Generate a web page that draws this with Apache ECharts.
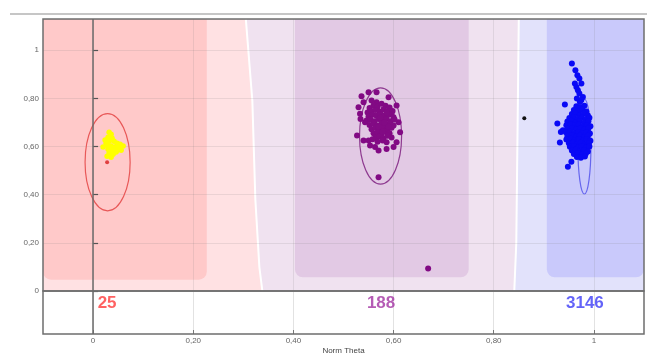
<!DOCTYPE html>
<html><head><meta charset="utf-8">
<script src="https://cdn.jsdelivr.net/npm/echarts@6/dist/echarts.min.js"></script>
<style>html,body{margin:0;padding:0;background:#fff}#c{width:647px;height:356px}</style>
</head><body><div id="c"></div>
<script>
// ---------- data ----------
const xTickValues = [0, 0.2, 0.4, 0.6, 0.8, 1];
const xTickLabels = ['0', '0,20', '0,40', '0,60', '0,80', '1'];
const yTickValues = [0, 0.2, 0.4, 0.6, 0.8, 1];
const yTickLabels = ['0', '0,20', '0,40', '0,60', '0,80', '1'];
const xRange = [-0.1, 1.1];
const yRange = [0, 1.13];
const xAxisName = 'Norm Theta';

const clusterCounts = ['25', '188', '3146'];
const clusterCenterX = [0.028, 0.575, 0.982];
const countLabelY = 0.71; // position inside the lower count band (0..1)

// decision regions (data units)
const lightPinkRegion = [[-0.1, 0], [0.336, 0], [0.330, 0.1], [0.322, 0.38], [0.316, 0.79], [0.303, 1.13], [-0.1, 1.13]];
const lightPurpleRegion = [[0.340, 0], [0.839, 0], [0.843, 0.2], [0.848, 1.13], [0.307, 1.13], [0.320, 0.79], [0.326, 0.38], [0.334, 0.1]];
const lightBlueRegion = [[0.843, 0], [1.1, 0], [1.1, 1.13], [0.852, 1.13], [0.847, 0.2]];
const darkRedRegion = [-0.1, 0.227, 0.047, 1.13];    // x0, x1, y0, y1
const darkPurpleRegion = [0.403, 0.750, 0.057, 1.13];
const darkBlueRegion = [0.906, 1.1, 0.057, 1.13];

// cluster ellipses [cx, cy, rx, ry]
const redEllipse = [0.029, 0.535, 0.045, 0.202];
const purpleEllipse = [0.574, 0.644, 0.042, 0.200];
const blueEllipse = [0.981, 0.600, 0.013, 0.197];

const yellowPoints = [
  [0.032, 0.660], [0.036, 0.651], [0.030, 0.639], [0.038, 0.635], [0.024, 0.627],
  [0.032, 0.622], [0.042, 0.622], [0.048, 0.614], [0.054, 0.610], [0.060, 0.602],
  [0.028, 0.606], [0.036, 0.602], [0.044, 0.598], [0.052, 0.593], [0.020, 0.598],
  [0.030, 0.589], [0.038, 0.585], [0.048, 0.585], [0.032, 0.573], [0.040, 0.568],
  [0.028, 0.560], [0.036, 0.556], [0.046, 0.577], [0.056, 0.585], [0.026, 0.614]
];
const redPoints = [[0.028, 0.535]];
const blackPoints = [[0.861, 0.718]];
const purplePoints = [
  [0.536, 0.809], [0.550, 0.826], [0.566, 0.826], [0.540, 0.784], [0.530, 0.763],
  [0.533, 0.736], [0.527, 0.646], [0.540, 0.625], [0.550, 0.625], [0.553, 0.604],
  [0.563, 0.598], [0.570, 0.584], [0.586, 0.590], [0.600, 0.598], [0.606, 0.618],
  [0.613, 0.660], [0.610, 0.701], [0.606, 0.771], [0.590, 0.805], [0.566, 0.784],
  [0.556, 0.791], [0.543, 0.701], [0.534, 0.715], [0.570, 0.473], [0.669, 0.093],
  [0.552, 0.760], [0.560, 0.772], [0.568, 0.765], [0.576, 0.778], [0.584, 0.770], [0.592, 0.762], [0.598, 0.748],
  [0.548, 0.742], [0.556, 0.748], [0.564, 0.752], [0.572, 0.745], [0.580, 0.755], [0.588, 0.748], [0.596, 0.735],
  [0.550, 0.725], [0.558, 0.732], [0.566, 0.728], [0.574, 0.735], [0.582, 0.728], [0.590, 0.732], [0.600, 0.722],
  [0.546, 0.708], [0.554, 0.712], [0.562, 0.705], [0.570, 0.715], [0.578, 0.708], [0.586, 0.715], [0.594, 0.705], [0.602, 0.712],
  [0.552, 0.690], [0.560, 0.695], [0.568, 0.688], [0.576, 0.698], [0.584, 0.690], [0.592, 0.695], [0.600, 0.688],
  [0.556, 0.672], [0.564, 0.678], [0.572, 0.670], [0.580, 0.680], [0.588, 0.672], [0.596, 0.678],
  [0.560, 0.655], [0.568, 0.660], [0.576, 0.652], [0.584, 0.662], [0.592, 0.655],
  [0.564, 0.638], [0.572, 0.642], [0.580, 0.635], [0.588, 0.645], [0.596, 0.638],
  [0.568, 0.620], [0.578, 0.625], [0.586, 0.618], [0.558, 0.630],
  [0.574, 0.720], [0.582, 0.700], [0.590, 0.682], [0.578, 0.662], [0.586, 0.742], [0.570, 0.682]
];
const bluePoints = [
  [0.956, 0.945], [0.963, 0.917], [0.967, 0.896], [0.971, 0.883], [0.962, 0.862], [0.965, 0.848], [0.975, 0.862],
  [0.968, 0.834], [0.971, 0.820], [0.978, 0.806], [0.975, 0.793], [0.966, 0.800], [0.972, 0.785],
  [0.942, 0.775], [0.927, 0.696], [0.938, 0.668], [0.934, 0.661], [0.932, 0.617], [0.955, 0.537], [0.948, 0.516],
  [0.965, 0.768], [0.973, 0.762], [0.981, 0.770],
  [0.960, 0.752], [0.969, 0.748], [0.977, 0.754], [0.985, 0.746],
  [0.956, 0.735], [0.963, 0.738], [0.972, 0.731], [0.980, 0.737], [0.988, 0.729],
  [0.951, 0.719], [0.960, 0.722], [0.968, 0.716], [0.976, 0.721], [0.984, 0.714], [0.991, 0.720],
  [0.947, 0.704], [0.955, 0.707], [0.964, 0.701], [0.972, 0.706], [0.981, 0.699], [0.989, 0.705],
  [0.945, 0.689], [0.953, 0.692], [0.962, 0.686], [0.970, 0.691], [0.978, 0.685], [0.986, 0.690], [0.993, 0.684],
  [0.948, 0.674], [0.957, 0.677], [0.965, 0.671], [0.973, 0.676], [0.981, 0.670], [0.989, 0.675],
  [0.944, 0.659], [0.952, 0.662], [0.961, 0.656], [0.969, 0.661], [0.977, 0.655], [0.985, 0.660], [0.992, 0.654],
  [0.947, 0.644], [0.956, 0.647], [0.964, 0.641], [0.972, 0.646], [0.980, 0.640], [0.988, 0.645],
  [0.945, 0.629], [0.954, 0.632], [0.962, 0.626], [0.970, 0.631], [0.978, 0.625], [0.986, 0.630], [0.993, 0.624],
  [0.950, 0.614], [0.958, 0.617], [0.966, 0.611], [0.974, 0.616], [0.982, 0.610], [0.990, 0.615],
  [0.952, 0.599], [0.960, 0.602], [0.968, 0.596], [0.976, 0.601], [0.984, 0.595], [0.991, 0.600],
  [0.956, 0.584], [0.964, 0.587], [0.972, 0.581], [0.980, 0.586], [0.988, 0.580],
  [0.960, 0.569], [0.968, 0.572], [0.976, 0.566], [0.984, 0.571],
  [0.966, 0.557], [0.974, 0.554], [0.982, 0.559]
];

// ---------- styles ----------
const lightRegions = [lightPinkRegion, lightPurpleRegion, lightBlueRegion];
const lightColors = ['#ffe1e3', '#f0e2f0', '#e2e2fb'];
const darkRegions = [darkRedRegion, darkPurpleRegion, darkBlueRegion];
const darkColors = ['#ffc9c9', '#e2c9e4', '#c9c9fb'];
const ellipses = [redEllipse, purpleEllipse, blueEllipse];
const ellipseColors = ['#e85858', '#8e3a90', '#6666ee'];
const countColors = ['#ff3b3b', '#a333a3', '#3c3cf6'];

const fmt = (vals, labels) => v => {
  const i = vals.findIndex(t => Math.abs(t - v) < 1e-6);
  return i >= 0 ? labels[i] : '';
};

const chart = echarts.init(document.getElementById('c'), null, {renderer: 'canvas'});
const gridLine = 'rgba(120,120,120,0.15)';
const option = {
  animation: false,
  backgroundColor: '#fff',
  graphic: [{
    type: 'line', shape: {x1: 10, y1: 14, x2: 647, y2: 14},
    style: {stroke: '#c6c6c6', lineWidth: 2}, silent: true
  }],
  grid: [
    {left: 43, width: 601, top: 19, height: 272, show: true, z: 3, borderColor: '#6e6e6e', borderWidth: 1.5, backgroundColor: 'transparent'},
    {left: 43, width: 601, top: 291, height: 45, show: true, z: 3, borderColor: '#6e6e6e', borderWidth: 1.5, backgroundColor: 'transparent'}
  ],
  xAxis: [
    {gridIndex: 0, type: 'value', min: xRange[0], max: xRange[1], z: 2,
     axisLine: {show: false}, axisLabel: {show: false},
     axisTick: {show: false, customValues: xTickValues},
     splitLine: {show: true, lineStyle: {color: gridLine, width: 1}}},
    {gridIndex: 1, type: 'value', min: xRange[0], max: xRange[1], z: 2,
     axisLine: {show: false},
     axisTick: {show: true, inside: true, length: 4, customValues: xTickValues, lineStyle: {color: '#777'}},
     axisLabel: {show: true, customValues: xTickValues, formatter: fmt(xTickValues, xTickLabels),
                 fontSize: 8, color: '#666', margin: 3, fontFamily: 'Liberation Sans, Arial'},
     splitLine: {show: true, lineStyle: {color: '#e2e2e2', width: 1}},
     name: xAxisName, nameLocation: 'middle', nameGap: 13,
     nameTextStyle: {fontSize: 8, color: '#444', fontFamily: 'Liberation Sans, Arial'}}
  ],
  yAxis: [
    {gridIndex: 0, type: 'value', min: yRange[0], max: yRange[1], interval: 0.2, z: 2,
     axisLine: {show: false},
     axisTick: {show: true, inside: true, length: 5, lineStyle: {color: '#555', width: 1.2}},
     axisLabel: {formatter: fmt(yTickValues, yTickLabels), fontSize: 8, color: '#666', margin: 4,
                 showMaxLabel: false, fontFamily: 'Liberation Sans, Arial'},
     splitLine: {show: true, lineStyle: {color: gridLine, width: 1}}},
    {gridIndex: 1, type: 'value', min: 0, max: 1, show: false}
  ],
  series: [
    {type: 'custom', xAxisIndex: 0, yAxisIndex: 0, z: 1, silent: true,
     data: lightRegions.map(r => r[0]),
     renderItem: (params, api) => ({
       type: 'polygon',
       shape: {points: lightRegions[params.dataIndex].map(p => api.coord(p))},
       style: {fill: lightColors[params.dataIndex]}
     })},
    {type: 'custom', xAxisIndex: 0, yAxisIndex: 0, z: 1.5, silent: true,
     data: darkRegions.map(r => [r[0], r[2]]),
     renderItem: (params, api) => {
       const r = darkRegions[params.dataIndex];
       const tl = api.coord([r[0], r[3]]);
       const br = api.coord([r[1], r[2]]);
       return {type: 'rect', shape: {x: tl[0], y: tl[1], width: br[0] - tl[0], height: br[1] - tl[1], r: [0, 0, 8, 8]},
               style: {fill: darkColors[params.dataIndex]}};
     }},
    {type: 'scatter', xAxisIndex: 0, yAxisIndex: 0, z: 3, data: [], silent: true,
     markLine: {symbol: 'none', silent: true, label: {show: false},
                lineStyle: {color: '#6a6a6a', width: 1.5, type: 'solid'},
                data: [{xAxis: 0}]}},
    {type: 'scatter', xAxisIndex: 1, yAxisIndex: 1, z: 3, data: [], silent: true,
     markLine: {symbol: 'none', silent: true, label: {show: false},
                lineStyle: {color: '#6a6a6a', width: 1.5, type: 'solid'},
                data: [{xAxis: 0}]}},
    {type: 'custom', xAxisIndex: 0, yAxisIndex: 0, z: 4, silent: true,
     data: ellipses.map(e => [e[0], e[1]]),
     renderItem: (params, api) => {
       const e = ellipses[params.dataIndex];
       const c = api.coord([e[0], e[1]]);
       const s = api.size([e[2], e[3]]);
       return {type: 'ellipse', shape: {cx: c[0], cy: c[1], rx: s[0], ry: s[1]},
               style: {fill: 'none', stroke: ellipseColors[params.dataIndex], lineWidth: 1.2}};
     }},
    {type: 'scatter', xAxisIndex: 0, yAxisIndex: 0, z: 5, symbolSize: 6, data: purplePoints,
     itemStyle: {color: '#820a84', opacity: 1}},
    {type: 'scatter', xAxisIndex: 0, yAxisIndex: 0, z: 5, symbolSize: 6, data: bluePoints,
     itemStyle: {color: '#0a0af5', opacity: 1}},
    {type: 'scatter', xAxisIndex: 0, yAxisIndex: 0, z: 5, symbolSize: 5.5, data: yellowPoints,
     itemStyle: {color: '#ffff00', opacity: 1}},
    {type: 'scatter', xAxisIndex: 0, yAxisIndex: 0, z: 5, symbolSize: 4, data: redPoints,
     itemStyle: {color: '#e04040', opacity: 1}},
    {type: 'scatter', xAxisIndex: 0, yAxisIndex: 0, z: 5, symbolSize: 4, data: blackPoints,
     itemStyle: {color: '#111', opacity: 1}},
    {type: 'scatter', xAxisIndex: 1, yAxisIndex: 1, z: 6, symbolSize: 0, silent: true,
     data: clusterCenterX.map((x, i) => ({value: [x, countLabelY],
       label: {color: countColors[i]}})),
     label: {show: true, position: 'inside', formatter: p => clusterCounts[p.dataIndex],
             fontSize: 17, fontWeight: 'bold', fontFamily: 'Liberation Sans, Arial'}}
  ]
};
chart.setOption(option);
</script>
</body></html>
